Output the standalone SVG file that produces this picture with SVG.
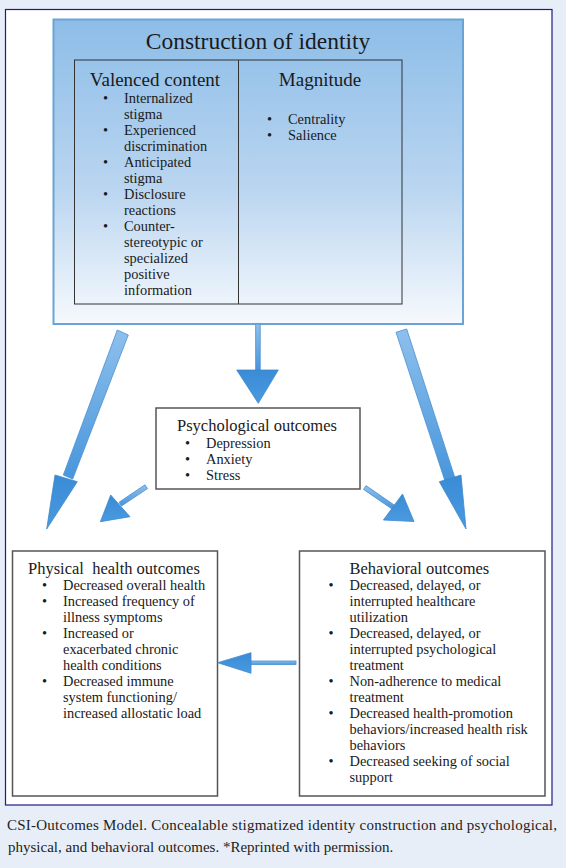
<svg xmlns="http://www.w3.org/2000/svg" width="566" height="868" viewBox="0 0 566 868">
<defs>
<style>
text{font-family:"Liberation Serif","Times New Roman",serif;fill:#1a1a1a}
.h1{font-size:23.5px;text-anchor:middle}
.h2{font-size:19px;text-anchor:middle}
.h3{font-size:16.5px}
.b{font-size:14.4px}
.cap{font-size:15px;fill:#222}
.box{fill:#fff;stroke:#555;stroke-width:1.5}
.arr{fill:url(#ag);stroke:#4a8fcf;stroke-width:0.8}
.arrh{fill:url(#ah);stroke:#3d88cc;stroke-width:0.8}
</style>
<linearGradient id="bg" x1="0" y1="0" x2="0" y2="1">
<stop offset="0" stop-color="#8dbde8"/>
<stop offset="0.55" stop-color="#b9d5f0"/>
<stop offset="1" stop-color="#f6f9fd"/>
</linearGradient>
<linearGradient id="ag" x1="0" y1="0" x2="0" y2="1">
<stop offset="0" stop-color="#8ec0ec"/>
<stop offset="1" stop-color="#4796dc"/>
</linearGradient>
<linearGradient id="ah" x1="0" y1="0" x2="0" y2="1">
<stop offset="0" stop-color="#3a8bd6"/>
<stop offset="1" stop-color="#4a9ae0"/>
</linearGradient>
</defs>
<rect x="0" y="0" width="566" height="868" fill="#e8eef8"/>
<rect x="5.5" y="9.5" width="546.5" height="795.5" fill="#fff" stroke="#1c1c84" stroke-width="1.2"/>

<g id="identity">
<rect x="53.5" y="19.5" width="409.5" height="304.5" fill="url(#bg)" stroke="#6aa3d6" stroke-width="2"/>
<text class="h1" x="258" y="49">Construction of identity</text>
<rect x="74.5" y="60" width="327.5" height="244" fill="none" stroke="#333" stroke-width="1"/>
<line x1="238.5" y1="60" x2="238.5" y2="304" stroke="#333" stroke-width="1"/>
<text class="h2" x="155" y="86">Valenced content</text>
<text class="h2" x="320" y="86">Magnitude</text>
<g class="b">
<text class="b" x="103" y="103">•</text><text class="b" x="124" y="103">Internalized</text>
<text class="b" x="124" y="119">stigma</text>
<text class="b" x="103" y="135">•</text><text class="b" x="124" y="135">Experienced</text>
<text class="b" x="124" y="151">discrimination</text>
<text class="b" x="103" y="167">•</text><text class="b" x="124" y="167">Anticipated</text>
<text class="b" x="124" y="183">stigma</text>
<text class="b" x="103" y="199">•</text><text class="b" x="124" y="199">Disclosure</text>
<text class="b" x="124" y="215">reactions</text>
<text class="b" x="103" y="231">•</text><text class="b" x="124" y="231">Counter-</text>
<text class="b" x="124" y="247">stereotypic or</text>
<text class="b" x="124" y="263">specialized</text>
<text class="b" x="124" y="279">positive</text>
<text class="b" x="124" y="295">information</text>
<text class="b" x="267" y="124">•</text><text class="b" x="288" y="124">Centrality</text>
<text class="b" x="267" y="140">•</text><text class="b" x="288" y="140">Salience</text>
</g>
</g>

<g id="psychological">
<rect class="box" x="156" y="408" width="204" height="81"/>
<text class="h3" x="177" y="431">Psychological outcomes</text>
<text class="b" x="185" y="448">•</text><text class="b" x="206" y="448">Depression</text>
<text class="b" x="185" y="464">•</text><text class="b" x="206" y="464">Anxiety</text>
<text class="b" x="185" y="480">•</text><text class="b" x="206" y="480">Stress</text>
</g>

<g id="physical">
<rect class="box" x="12.5" y="551" width="205" height="245"/>
<text class="h3" x="28" y="573.5" xml:space="preserve">Physical  health outcomes</text>
<text class="b" x="42" y="590">•</text><text class="b" x="63" y="590">Decreased overall health</text>
<text class="b" x="42" y="606">•</text><text class="b" x="63" y="606">Increased frequency of</text>
<text class="b" x="63" y="622">illness symptoms</text>
<text class="b" x="42" y="638">•</text><text class="b" x="63" y="638">Increased or</text>
<text class="b" x="63" y="654">exacerbated chronic</text>
<text class="b" x="63" y="670">health conditions</text>
<text class="b" x="42" y="686">•</text><text class="b" x="63" y="686">Decreased immune</text>
<text class="b" x="63" y="702">system functioning/</text>
<text class="b" x="63" y="718">increased allostatic load</text>
</g>

<g id="behavioral">
<rect class="box" x="299.5" y="551" width="245.5" height="245"/>
<text class="h3" x="349.5" y="573.5">Behavioral outcomes</text>
<text class="b" x="328.5" y="590">•</text><text class="b" x="349.5" y="590">Decreased, delayed, or</text>
<text class="b" x="349.5" y="606">interrupted healthcare</text>
<text class="b" x="349.5" y="622">utilization</text>
<text class="b" x="328.5" y="638">•</text><text class="b" x="349.5" y="638">Decreased, delayed, or</text>
<text class="b" x="349.5" y="654">interrupted psychological</text>
<text class="b" x="349.5" y="670">treatment</text>
<text class="b" x="328.5" y="686">•</text><text class="b" x="349.5" y="686">Non-adherence to medical</text>
<text class="b" x="349.5" y="702">treatment</text>
<text class="b" x="328.5" y="718">•</text><text class="b" x="349.5" y="718">Decreased health-promotion</text>
<text class="b" x="349.5" y="734">behaviors/increased health risk</text>
<text class="b" x="349.5" y="750">behaviors</text>
<text class="b" x="328.5" y="766">•</text><text class="b" x="349.5" y="766">Decreased seeking of social</text>
<text class="b" x="349.5" y="782">support</text>
</g>

<g id="connectors">
<polygon class="arr" points="117.3,330 128.3,335 72.7,479 63.3,475"/>
<polygon class="arrh" points="55,475 77.3,481.7 46.7,529"/>
<polygon class="arr" points="396,332.3 406.7,329 455,478 445,481"/>
<polygon class="arrh" points="439.3,481.7 461,475 466,529"/>
<rect class="arr" x="255.7" y="324" width="4.5" height="46"/>
<polygon class="arrh" points="236.7,370 278.3,370 258.3,403.3"/>
<polygon class="arr" points="145,484.8 147.5,488.6 121.5,506 119,502.3"/>
<polygon class="arrh" points="110.7,495 130,516.7 100.4,521.7"/>
<polygon class="arr" points="366,485.6 363.5,489.4 392,509 394.5,505.2"/>
<polygon class="arrh" points="402.5,494 383.4,520 414,521.5"/>
<rect class="arr" x="250" y="661" width="46" height="3.5"/>
<polygon class="arrh" points="251,652.7 251,673.3 217.7,662.7"/>
</g>

<text class="cap" x="7" y="830" textLength="550" lengthAdjust="spacing">CSI-Outcomes Model. Concealable stigmatized identity construction and psychological,</text>
<text class="cap" x="8" y="852">physical, and behavioral outcomes. *Reprinted with permission.</text>
</svg>
